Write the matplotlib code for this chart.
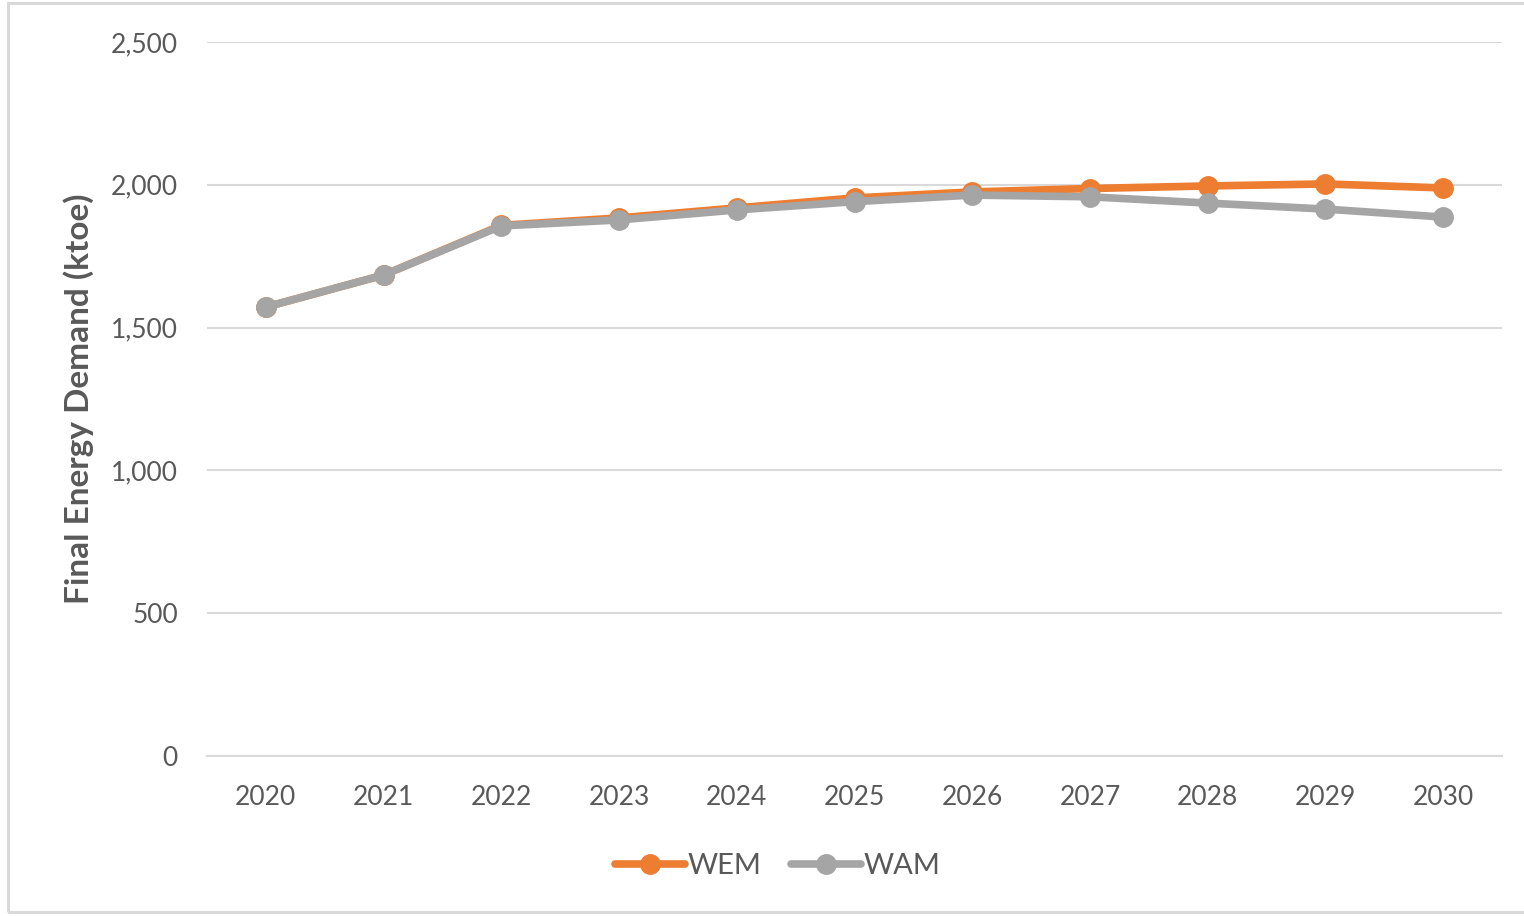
import matplotlib
matplotlib.use('Agg')
import matplotlib.pyplot as plt
from matplotlib.patches import Rectangle
from matplotlib.ticker import FuncFormatter

years = ['2020', '2021', '2022', '2023', '2024', '2025',
         '2026', '2027', '2028', '2029', '2030']
wem = [1572, 1684, 1858, 1884, 1919, 1954, 1975, 1987, 1996, 2003, 1989]
wam = [1572, 1684, 1856, 1877, 1912, 1941, 1964, 1958, 1936, 1915, 1887]

orange = '#ED7D31'
grey = '#A5A5A5'
text_col = '#595959'

plt.rcParams['font.family'] = ['Lato', 'DejaVu Sans']

fig = plt.figure(figsize=(15.24, 9.16), dpi=100)
ax = fig.add_axes([207 / 1524, 1 - 756 / 916, 1295 / 1524, 714 / 916])

# chart frame (left/top/bottom visible in the crop)
fig.patches.append(Rectangle((8 / 1524, 1 - 912 / 916), 1.0, 909 / 916,
                             transform=fig.transFigure, fill=False,
                             edgecolor='#D9D9D9', linewidth=2.2))

x = range(len(years))
ax.plot(x, wem, color=orange, lw=5.5, marker='o', ms=14,
        solid_capstyle='round', label='WEM', zorder=3)
ax.plot(x, wam, color=grey, lw=5.5, marker='o', ms=14,
        solid_capstyle='round', label='WAM', zorder=4)

ax.set_xlim(-0.5, len(years) - 0.5)
ax.set_ylim(0, 2500)
ax.set_yticks(range(0, 2501, 500))
ax.yaxis.set_major_formatter(FuncFormatter(lambda v, p: '{:,.0f}'.format(v)))
ax.set_xticks(list(x))
ax.set_xticklabels(years)

ax.grid(axis='y', color='#D9D9D9', lw=1.5)
ax.set_axisbelow(True)
for s in ['top', 'right', 'left']:
    ax.spines[s].set_visible(False)
ax.spines['bottom'].set_color('#D9D9D9')
ax.spines['bottom'].set_linewidth(1.5)
ax.tick_params(length=0, labelsize=19, labelcolor=text_col)
ax.tick_params(axis='x', pad=21)
ax.tick_params(axis='y', pad=21)

ax.set_ylabel('Final Energy Demand (ktoe)', fontsize=24, fontweight='bold',
              color=text_col, labelpad=12)

leg = fig.legend(loc='center', bbox_to_anchor=(778 / 1524, 1 - 866 / 916),
                 ncol=2, frameon=False, fontsize=21, handlelength=2.4,
                 handletextpad=0.1, columnspacing=1.0)
for t in leg.get_texts():
    t.set_color(text_col)

fig.savefig('out.png', dpi=100)
